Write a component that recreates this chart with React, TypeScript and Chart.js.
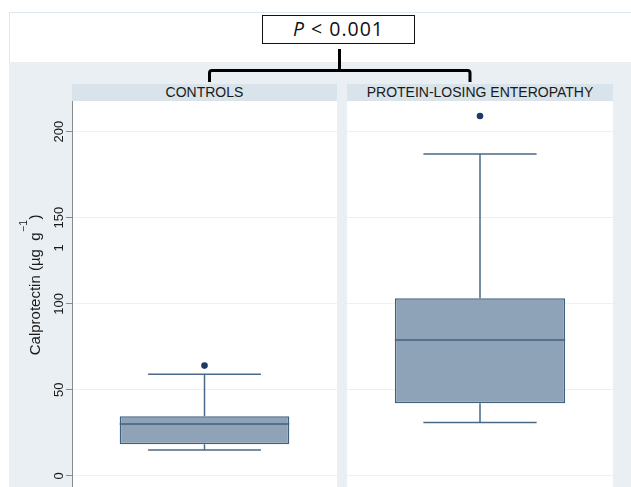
import React, { useEffect, useRef } from 'react';
import { Chart, registerables } from 'chart.js';

Chart.register(...registerables);

// ---------- data ----------
const categories = ['CONTROLS', 'PROTEIN-LOSING ENTEROPATHY'];
const lowerWhisker = [15.0, 31.0];
const q1Values = [18.4, 42.2];
const medianValues = [30.2, 79.0];
const q3Values = [34.7, 103.2];
const upperWhisker = [59.1, 187.0];
const outlierValues = [[64.1], [209.1]];
const yTickValues = [0, 50, 100, 150, 200];
const yRange = [-10.5, 217.8];
const yAxisTitle = 'Calprotectin (µg  g';
const yAxisTitleSup = '−1';
const yAxisTitleEnd = ')';
const strayLabel = '1';
const strayLabelValue = 132.5;
const pValueItalic = 'P';
const pValueRest = ' < 0.001';

// ---------- styles ----------
const FONT = '"Liberation Sans", Arial, Helvetica, sans-serif';
const BOX_FILL = '#8ea3b7';
const BOX_LINE = '#41607f';
const WHISKER = '#4a6987';
const OUTLIER = '#1c3b6a';
const GRID = '#edf1f4';
const AXIS = '#8a8a8a';
const OUTER_BG = '#e9eff3';
const HEADER_BG = '#d8e3ea';
const CAP_RATIO = 0.665;

const PLOT_TOP = 101;
const CANVAS_H = 393;
const AXIS_W = 72;
const PANELS = [
  { left: 0, width: 337, axis: true },
  { left: 347, width: 266, axis: false },
];

function boxPlugin(i: number) {
  return {
    id: 'boxWhiskers' + i,
    afterDatasetsDraw(chart: any) {
      const meta = chart.getDatasetMeta(0);
      const bar = meta.data[0] as any;
      if (!bar) return;
      const y = chart.scales.y;
      const cx = bar.x;
      const w = bar.width;
      const cap = w * CAP_RATIO;
      const ctx = chart.ctx as CanvasRenderingContext2D;
      const yU = y.getPixelForValue(upperWhisker[i]);
      const yL = y.getPixelForValue(lowerWhisker[i]);
      const yQ1 = y.getPixelForValue(q1Values[i]);
      const yQ3 = y.getPixelForValue(q3Values[i]);
      const yM = y.getPixelForValue(medianValues[i]);
      ctx.save();
      ctx.strokeStyle = WHISKER;
      ctx.lineWidth = 1.5;
      ctx.beginPath();
      ctx.moveTo(cx, yQ3);
      ctx.lineTo(cx, yU);
      ctx.moveTo(cx - cap / 2, yU);
      ctx.lineTo(cx + cap / 2, yU);
      ctx.moveTo(cx, yQ1);
      ctx.lineTo(cx, yL);
      ctx.moveTo(cx - cap / 2, yL);
      ctx.lineTo(cx + cap / 2, yL);
      ctx.stroke();
      ctx.strokeStyle = BOX_LINE;
      ctx.lineWidth = 1.6;
      ctx.beginPath();
      ctx.moveTo(cx - w / 2, yM);
      ctx.lineTo(cx + w / 2, yM);
      ctx.stroke();
      ctx.restore();
    },
  };
}

const plotBgPlugin = {
  id: 'plotBg',
  beforeDraw(chart: any) {
    const { ctx, chartArea } = chart;
    ctx.save();
    ctx.fillStyle = '#ffffff';
    ctx.fillRect(chartArea.left, chartArea.top, chartArea.right - chartArea.left, chartArea.bottom - chartArea.top);
    ctx.restore();
  },
};

const axisLabelsPlugin = {
  id: 'axisLabels',
  afterDraw(chart: any) {
    const ctx = chart.ctx as CanvasRenderingContext2D;
    const y = chart.scales.y;
    const left = chart.chartArea.left;
    const labelX = left - 14;
    ctx.save();
    ctx.fillStyle = '#1a1a1a';
    ctx.textBaseline = 'alphabetic';
    ctx.textAlign = 'center';
    ctx.font = `13px ${FONT}`;
    const drawRot = (txt: string, px: number, py: number) => {
      ctx.save();
      ctx.translate(px, py);
      ctx.rotate(-Math.PI / 2);
      ctx.fillText(txt, 0, 4.6);
      ctx.restore();
    };
    yTickValues.forEach((v) => drawRot(String(v), labelX, y.getPixelForValue(v)));
    drawRot(strayLabel, labelX, y.getPixelForValue(strayLabelValue));

    // axis title
    const mainFont = `15px ${FONT}`;
    const supFont = `10.5px ${FONT}`;
    ctx.font = mainFont;
    const w1 = ctx.measureText(yAxisTitle).width;
    const w3 = ctx.measureText(yAxisTitleEnd).width;
    ctx.font = supFont;
    const w2 = ctx.measureText(yAxisTitleSup).width;
    const total = w1 + w2 + w3 + 1;
    const cy = y.getPixelForValue(111);
    ctx.save();
    ctx.translate(left - 32, cy);
    ctx.rotate(-Math.PI / 2);
    ctx.textAlign = 'left';
    let x0 = -total / 2;
    ctx.font = mainFont;
    ctx.fillText(yAxisTitle, x0, 0);
    x0 += w1 + 0.5;
    ctx.font = supFont;
    ctx.fillText(yAxisTitleSup, x0, -13);
    x0 += w2 + 0.5;
    ctx.font = mainFont;
    ctx.fillText(yAxisTitleEnd, x0, 0);
    ctx.restore();
    ctx.restore();
  },
};

function makeConfig(i: number, showAxis: boolean): any {
  return {
    type: 'bar',
    data: {
      labels: [categories[i]],
      datasets: [
        {
          type: 'bar',
          data: [[q1Values[i], q3Values[i]]],
          backgroundColor: BOX_FILL,
          borderColor: BOX_LINE,
          borderWidth: 1.5,
          borderSkipped: false,
          barPercentage: 0.64,
          categoryPercentage: 1,
          order: 2,
        },
        {
          type: 'line',
          data: outlierValues[i].map((v) => ({ x: categories[i], y: v })),
          showLine: false,
          pointRadius: 3.3,
          pointHoverRadius: 0,
          pointBackgroundColor: OUTLIER,
          pointBorderColor: OUTLIER,
          pointBorderWidth: 0,
          order: 1,
        },
      ],
    },
    options: {
      animation: false,
      responsive: false,
      maintainAspectRatio: false,
      events: [],
      layout: { padding: 0, autoPadding: false },
      plugins: {
        legend: { display: false },
        tooltip: { enabled: false },
        title: { display: false },
      },
      scales: {
        x: { display: false, offset: true },
        y: {
          min: yRange[0],
          max: yRange[1],
          afterBuildTicks: (scale: any) => {
            scale.ticks = yTickValues.map((v) => ({ value: v }));
          },
          afterFit: (scale: any) => {
            scale.width = showAxis ? AXIS_W : 0;
          },
          ticks: { display: false },
          grid: {
            color: GRID,
            lineWidth: 1,
            drawTicks: showAxis,
            tickLength: 6,
            tickColor: AXIS,
          },
          border: { display: showAxis, color: AXIS, width: 1 },
        },
      },
    },
    plugins: showAxis ? [plotBgPlugin, boxPlugin(i), axisLabelsPlugin] : [plotBgPlugin, boxPlugin(i)],
  };
}

function Panel({ index }: { index: number }) {
  const ref = useRef<HTMLCanvasElement>(null);
  const p = PANELS[index];
  useEffect(() => {
    const chart = new Chart(ref.current as HTMLCanvasElement, makeConfig(index, p.axis));
    return () => chart.destroy();
  }, []);
  return (
    <canvas
      ref={ref}
      width={p.width}
      height={CANVAS_H}
      style={{ position: 'absolute', left: p.left, top: PLOT_TOP, width: p.width, height: CANVAS_H }}
    />
  );
}

const headerStyle = (left: number, width: number): React.CSSProperties => ({
  position: 'absolute',
  left,
  top: 84,
  width,
  height: 17,
  background: HEADER_BG,
  color: '#1a1a1a',
  fontFamily: FONT,
  fontSize: 14,
  lineHeight: '17px',
  textAlign: 'center',
  whiteSpace: 'nowrap',
});

export default function App() {
  return (
    <div
      style={{
        position: 'absolute',
        left: 0,
        top: 0,
        width: 631,
        height: 487,
        overflow: 'hidden',
        background: '#ffffff',
        fontFamily: FONT,
      }}
    >
      <div
        style={{
          position: 'absolute',
          left: 9,
          top: 12,
          width: 622,
          height: 50,
          borderTop: '1px solid #dfe7ec',
          borderLeft: '1px solid #dfe7ec',
          boxSizing: 'border-box',
          background: '#ffffff',
        }}
      />
      <div style={{ position: 'absolute', left: 9, top: 62, width: 622, height: 425, background: OUTER_BG }} />
      <div style={headerStyle(72, 265)}>{categories[0]}</div>
      <div style={headerStyle(347, 266)}>{categories[1]}</div>
      <div
        style={{
          position: 'absolute',
          left: 262,
          top: 15,
          width: 153,
          height: 29,
          border: '1.5px solid #111',
          boxSizing: 'border-box',
          background: '#fff',
          fontFamily: '"Open Sans", "Liberation Sans", sans-serif',
          fontSize: 19.5,
          letterSpacing: 1,
          lineHeight: '26px',
          textAlign: 'center',
          color: '#111',
          whiteSpace: 'pre',
        }}
      >
        <span style={{ fontStyle: 'italic' }}>{pValueItalic}</span>
        {pValueRest}
      </div>
      <svg style={{ position: 'absolute', left: 0, top: 0 }} width={631} height={100}>
        <path d="M339.5 49 V71" stroke="#000" strokeWidth={3} fill="none" />
        <path
          d="M209.5 82 V73 Q209.5 70.5 212 70.5 H467.5 Q470 70.5 470 73 V82"
          stroke="#000"
          strokeWidth={3}
          fill="none"
        />
      </svg>
      <Panel index={0} />
      <Panel index={1} />
    </div>
  );
}
